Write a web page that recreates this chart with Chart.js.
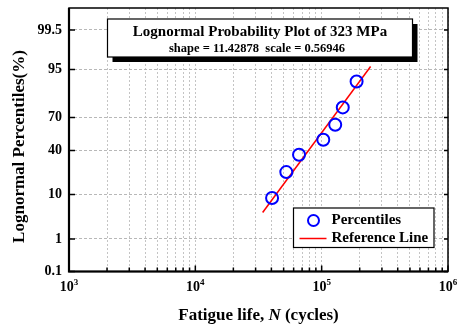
<!DOCTYPE html>
<html>
<head>
<meta charset="utf-8">
<script src="https://cdn.jsdelivr.net/npm/chart.js@4"></script>
<style>
  body { margin: 0; background: #fff; }
  canvas { display: block; }
</style>
</head>
<body>
<canvas id="chart" width="458" height="324"></canvas>
<script>
// fatigue lives (cycles) and their plotting percentiles
const lifeCycles = [40500, 52500, 66200, 103000, 128000, 146900, 189000];
const percentiles = [8.62, 22.41, 36.21, 50.0, 63.79, 77.59, 91.38];

// reference line end points
const refLineLife = [34100, 244000];
const refLinePct = [4.4, 95.7];

// axis ticks
const yTickPct = [0.1, 1, 10, 40, 70, 95, 99.5];
const xDecades = [1e3, 1e4, 1e5, 1e6];

const titleText = 'Lognormal Probability Plot of 323 MPa';
const subText = 'shape = 11.42878  scale = 0.56946';

const SERIF = "'Liberation Serif', 'Times New Roman', serif";

// inverse standard normal cdf (Acklam)
function normInv(p) {
  const a = [-3.969683028665376e+01, 2.209460984245205e+02, -2.759285104469687e+02, 1.383577518672690e+02, -3.066479806614716e+01, 2.506628277459239e+00];
  const b = [-5.447609879822406e+01, 1.615858368580409e+02, -1.556989798598866e+02, 6.680131188771972e+01, -1.328068155288572e+01];
  const c = [-7.784894002430293e-03, -3.223964580411365e-01, -2.400758277161838e+00, -2.549671010243277e+00, 4.374664141464968e+00, 2.938163982698783e+00];
  const d = [7.784695709041462e-03, 3.224671290700398e-01, 2.445134137142996e+00, 3.754408661907416e+00];
  const pl = 0.02425;
  let q, r;
  if (p < pl) {
    q = Math.sqrt(-2 * Math.log(p));
    return (((((c[0]*q+c[1])*q+c[2])*q+c[3])*q+c[4])*q+c[5]) / ((((d[0]*q+d[1])*q+d[2])*q+d[3])*q+1);
  }
  if (p <= 1 - pl) {
    q = p - 0.5; r = q * q;
    return (((((a[0]*r+a[1])*r+a[2])*r+a[3])*r+a[4])*r+a[5])*q / (((((b[0]*r+b[1])*r+b[2])*r+b[3])*r+b[4])*r+1);
  }
  q = Math.sqrt(-2 * Math.log(1 - p));
  return -(((((c[0]*q+c[1])*q+c[2])*q+c[3])*q+c[4])*q+c[5]) / ((((d[0]*q+d[1])*q+d[2])*q+d[3])*q+1);
}
const zOf = pct => normInv(pct / 100);
const zMax = zOf(99.9);

// minor x ticks 1..9 per decade
const xTickVals = [];
for (let k = 0; k < xDecades.length - 1; k++) {
  for (let m = 1; m <= 9; m++) xTickVals.push(xDecades[k] * m);
}
xTickVals.push(xDecades[xDecades.length - 1]);

const overlay = {
  id: 'overlay',
  afterDraw(chart) {
    const ctx = chart.ctx;
    const ca = chart.chartArea;
    const xs = chart.scales.x, ys = chart.scales.y;
    ctx.save();

    // frame
    ctx.strokeStyle = '#000';
    ctx.lineWidth = 1.5;
    ctx.strokeRect(ca.left, ca.top, ca.right - ca.left, ca.bottom - ca.top);
    ctx.lineWidth = 2.2;
    ctx.beginPath();
    ctx.moveTo(ca.left, ca.top); ctx.lineTo(ca.left, ca.bottom); ctx.lineTo(ca.right, ca.bottom);
    ctx.stroke();

    // inward ticks
    ctx.lineWidth = 1.5;
    ctx.beginPath();
    xTickVals.forEach(v => {
      const px = xs.getPixelForValue(v);
      const major = xDecades.includes(v);
      ctx.moveTo(px, ca.bottom); ctx.lineTo(px, ca.bottom - (major ? 6 : 4));
    });
    yTickPct.forEach(p => {
      const py = ys.getPixelForValue(zOf(p));
      ctx.moveTo(ca.left, py); ctx.lineTo(ca.left + 6, py);
      ctx.moveTo(ca.right, py); ctx.lineTo(ca.right - 4, py);
    });
    ctx.stroke();

    // x tick labels: 10 with raised exponent
    ctx.fillStyle = '#000';
    ctx.textBaseline = 'alphabetic';
    xDecades.forEach(v => {
      const px = xs.getPixelForValue(v);
      const e = String(Math.round(Math.log10(v)));
      ctx.font = 'bold 14px ' + SERIF;
      const w1 = ctx.measureText('10').width;
      ctx.font = 'bold 9px ' + SERIF;
      const w2 = ctx.measureText(e).width;
      const x0 = px - (w1 + w2) / 2;
      ctx.textAlign = 'left';
      ctx.font = 'bold 14px ' + SERIF;
      ctx.fillText('10', x0, 291);
      ctx.font = 'bold 9px ' + SERIF;
      ctx.fillText(e, x0 + w1, 285);
    });

    // title box with shadow
    const bx = 107.5, by = 19, bw = 305, bh = 38;
    ctx.fillStyle = '#000';
    ctx.fillRect(bx + 5, by + 5, bw, bh);
    ctx.fillStyle = '#fff';
    ctx.fillRect(bx, by, bw, bh);
    ctx.strokeStyle = '#000';
    ctx.lineWidth = 1.2;
    ctx.strokeRect(bx, by, bw, bh);
    ctx.fillStyle = '#000';
    ctx.textAlign = 'center';
    ctx.font = 'bold 15px ' + SERIF;
    ctx.fillText(titleText, bx + bw / 2, by + 17);
    ctx.font = 'bold 12.5px ' + SERIF;
    ctx.fillText(subText, bx + bw / 2 - 3, by + 33);

    // legend box
    const lx = 293.5, ly = 208, lw = 140.5, lh = 39.5;
    ctx.fillStyle = '#fff';
    ctx.fillRect(lx, ly, lw, lh);
    ctx.strokeStyle = '#000';
    ctx.lineWidth = 1.2;
    ctx.strokeRect(lx, ly, lw, lh);
    const ds0 = chart.data.datasets[0], ds1 = chart.data.datasets[1];
    ctx.strokeStyle = ds0.borderColor;
    ctx.lineWidth = ds0.borderWidth;
    ctx.beginPath();
    ctx.arc(lx + 20, ly + 12.5, 5.5, 0, Math.PI * 2);
    ctx.stroke();
    ctx.strokeStyle = ds1.borderColor;
    ctx.lineWidth = ds1.borderWidth;
    ctx.beginPath();
    ctx.moveTo(lx + 6, ly + 30.5); ctx.lineTo(lx + 33, ly + 30.5);
    ctx.stroke();
    ctx.fillStyle = '#000';
    ctx.textAlign = 'left';
    ctx.textBaseline = 'middle';
    ctx.font = 'bold 15px ' + SERIF;
    ctx.fillText(ds0.label, lx + 38, ly + 12);
    ctx.fillText(ds1.label, lx + 38, ly + 30.5);

    // x axis title with italic N
    const parts = [
      ['Fatigue life, ', 'bold 17px ' + SERIF],
      ['N', 'italic bold 17px ' + SERIF],
      [' (cycles)', 'bold 17px ' + SERIF]
    ];
    let total = 0;
    parts.forEach(p => { ctx.font = p[1]; total += ctx.measureText(p[0]).width; });
    let tx = (ca.left + ca.right) / 2 - total / 2;
    ctx.textBaseline = 'alphabetic';
    parts.forEach(p => { ctx.font = p[1]; ctx.fillText(p[0], tx, 320); tx += ctx.measureText(p[0]).width; });

    // y axis title
    ctx.save();
    ctx.translate(24, 146.5);
    ctx.rotate(-Math.PI / 2);
    ctx.textAlign = 'center';
    ctx.font = 'bold 17px ' + SERIF;
    ctx.fillText('Lognormal Percentiles(%)', 0, 0);
    ctx.restore();

    ctx.restore();
  }
};

new Chart(document.getElementById('chart'), {
  type: 'scatter',
  data: {
    datasets: [
      {
        label: 'Percentiles',
        data: lifeCycles.map((n, i) => ({x: n, y: zOf(percentiles[i])})),
        borderColor: '#0000ff',
        backgroundColor: 'rgba(0,0,0,0)',
        borderWidth: 2,
        pointRadius: 6,
        pointHoverRadius: 6,
        order: 1
      },
      {
        label: 'Reference Line',
        data: refLineLife.map((n, i) => ({x: n, y: zOf(refLinePct[i])})),
        showLine: true,
        borderColor: '#ff0000',
        borderWidth: 1.5,
        pointRadius: 0,
        order: 2
      }
    ]
  },
  options: {
    responsive: false,
    animation: false,
    devicePixelRatio: 1,
    layout: { padding: { left: 0, top: 7, right: 10, bottom: 0 } },
    plugins: { legend: { display: false }, tooltip: { enabled: false } },
    scales: {
      x: {
        type: 'logarithmic',
        min: 1e3,
        max: 1e6,
        afterBuildTicks: s => { s.ticks = xTickVals.map(v => ({value: v})); },
        afterFit: s => { s.height = 52.5; s.paddingLeft = 0; s.paddingRight = 0; },
        grid: { color: '#c4c4c4', lineWidth: 1, drawTicks: false },
        border: { display: false, dash: [2, 2] },
        ticks: {
          autoSkip: false,
          maxRotation: 0,
          padding: 6,
          callback: () => ''
        }
      },
      y: {
        type: 'linear',
        min: -zMax,
        max: zMax,
        afterBuildTicks: s => { s.ticks = yTickPct.map(p => ({value: zOf(p)})); },
        afterFit: s => { s.width = 69; s.paddingTop = 0; s.paddingBottom = 0; },
        grid: { color: '#b8b8b8', lineWidth: 1, drawTicks: false },
        border: { display: false, dash: [3, 2] },
        ticks: {
          autoSkip: false,
          padding: 7,
          color: '#000',
          font: { family: SERIF, size: 14, weight: 'bold' },
          callback: (v, i) => String(yTickPct[i])
        }
      }
    }
  },
  plugins: [overlay]
});
</script>
</body>
</html>
